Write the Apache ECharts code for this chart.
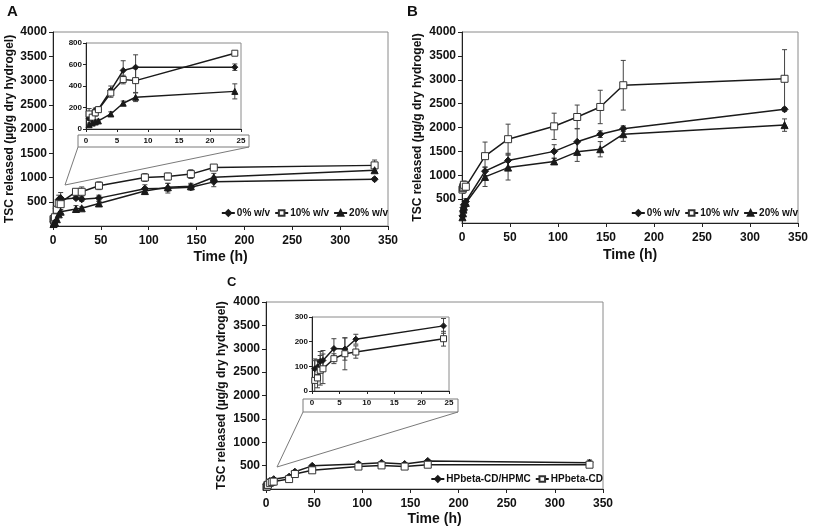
<!DOCTYPE html>
<html><head><meta charset="utf-8">
<script src="https://cdn.jsdelivr.net/npm/echarts@6/dist/echarts.min.js"></script>
<style>html,body{margin:0;padding:0;background:#fff}#c{width:813px;height:530px}</style>
</head><body><div id="c"></div>
<script>
// ---- Panel A data ----
const timesA = [0.5, 1, 1.5, 2, 4, 6, 8, 24, 30, 48, 96, 120, 144, 168, 336];
const A_0 = [100, 130, 175, 185, 360, 545, 575, 575, 550, 575, 770, 780, 800, 910, 965];
const A_0err = [20, 20, 20, 20, 40, 90, 115, 30, 40, 60, 80, 100, 60, 100, 30];
const A_10 = [140, 110, 150, 180, 335, 460, 450, 705, 705, 830, 1000, 1020, 1070, 1205, 1250];
const A_10err = [50, 30, 30, 20, 40, 40, 110, 20, 100, 80, 80, 70, 90, 60, 110];
const A_20 = [40, 55, 65, 75, 140, 240, 295, 350, 365, 465, 720, 800, 820, 1005, 1150];
const A_20err = [15, 15, 15, 15, 20, 20, 40, 70, 30, 40, 70, 80, 60, 80, 40];
// ---- Panel B data ----
const timesB = [0.5, 1, 1.5, 2, 4, 24, 48, 96, 120, 144, 168, 336];
const B_0 = [150, 250, 320, 380, 450, 1085, 1310, 1500, 1700, 1860, 1975, 2380];
const B_0err = [30, 40, 40, 40, 60, 90, 150, 140, 280, 70, 60, 40];
const B_10 = [700, 730, 760, 800, 760, 1400, 1755, 2025, 2220, 2430, 2885, 3020];
const B_10err = [80, 80, 80, 80, 80, 295, 315, 275, 250, 350, 520, 610];
const B_20 = [120, 200, 280, 340, 420, 965, 1160, 1290, 1490, 1545, 1860, 2050];
const B_20err = [30, 40, 40, 40, 50, 200, 260, 60, 200, 160, 150, 130];
// ---- Panel C data ----
const timesC = [0.5, 1, 1.5, 2, 4, 6, 8, 24, 30, 48, 96, 120, 144, 168, 336];
const C_hpmc = [90, 97, 120, 124, 172, 170, 210, 264, 370, 495, 535, 560, 535, 600, 560];
const C_hpmcErr = [40, 30, 40, 40, 40, 45, 20, 30, 30, 30, 40, 30, 30, 30, 60];
const C_cd = [43, 53, 84, 90, 131, 151, 158, 212, 320, 400, 480, 505, 480, 520, 520];
const C_cdErr = [80, 40, 60, 60, 20, 65, 25, 30, 30, 30, 40, 30, 40, 40, 60];
// ---- labels ----
const seriesNamesAB = ['0% w/v', '10% w/v', '20% w/v'];
const seriesNamesC = ['HPbeta-CD/HPMC', 'HPbeta-CD'];
const yTitle = 'TSC released (\u00b5g/g dry hydrogel)';
const xTitle = 'Time (h)';
const insetMaxT = 24;

const FONT = 'Liberation Sans, Arial, sans-serif';
const INK = '#1a1a1a';

function pts(t, v, lim) { return t.map((x, i) => [x, v[i]]).filter(p => lim == null || p[0] <= lim); }
function epts(t, v, e, lim) { return t.map((x, i) => [x, v[i], e[i]]).filter(p => lim == null || p[0] <= lim); }

const styles = {
  diamond: { symbol: 'diamond', symbolSize: 7, itemStyle: { color: INK, borderColor: INK, borderWidth: 1 } },
  square: { symbol: 'rect', symbolSize: 7, itemStyle: { color: '#fff', borderColor: '#333', borderWidth: 1 } },
  triangle: { symbol: 'triangle', symbolSize: 7, itemStyle: { color: INK, borderColor: INK, borderWidth: 1 } }
};

function lineSeries(name, idx, data, st, small) {
  return Object.assign({
    type: 'line', name, xAxisIndex: idx, yAxisIndex: idx, data,
    lineStyle: { color: INK, width: 1.5 }, z: 4, animation: false, clip: true
  }, JSON.parse(JSON.stringify(st)), small ? { symbolSize: 6 } : {});
}
function errSeries(idx, data) {
  return {
    type: 'custom', xAxisIndex: idx, yAxisIndex: idx, data, z: 3, silent: true, animation: false, clip: true,
    encode: { x: 0, y: 1 },
    renderItem: function (params, api) {
      const x = api.value(0), y = api.value(1), e = api.value(2);
      const t = api.coord([x, y + e]), b = api.coord([x, y - e]);
      const w = 2.5, st = { stroke: '#444', lineWidth: 1 };
      return { type: 'group', children: [
        { type: 'line', shape: { x1: t[0], y1: t[1], x2: b[0], y2: b[1] }, style: st },
        { type: 'line', shape: { x1: t[0] - w, y1: t[1], x2: t[0] + w, y2: t[1] }, style: st },
        { type: 'line', shape: { x1: b[0] - w, y1: b[1], x2: b[0] + w, y2: b[1] }, style: st }
      ] };
    }
  };
}

function grid(left, top, width, height) {
  return { left, top, width, height, show: true, borderColor: '#8a8a8a', borderWidth: 1, backgroundColor: '#fff', outerBoundsMode: 'none', containLabel: false };
}
const plain = v => String(v);
function xAx(idx, max, interval, fs, margin, nameGap) {
  return {
    type: 'value', gridIndex: idx, min: 0, max, interval,
    axisLine: { show: true, onZero: false, lineStyle: { color: '#222', width: 1 } },
    axisTick: { show: true, inside: false, length: fs > 9 ? 4 : 3, lineStyle: { color: '#222' } },
    splitLine: { show: false },
    axisLabel: { fontSize: fs, fontWeight: 'bold', color: '#111', fontFamily: FONT, margin, formatter: plain },
    name: nameGap ? xTitle : '', nameLocation: 'middle', nameGap: nameGap || 0,
    nameTextStyle: { fontSize: 14, fontWeight: 'bold', color: '#111', fontFamily: FONT }
  };
}
function yAx(idx, max, interval, fs, margin, nameGap, hideMin) {
  return {
    type: 'value', gridIndex: idx, min: 0, max, interval,
    axisLine: { show: true, onZero: false, lineStyle: { color: '#222', width: 1 } },
    axisTick: { show: true, inside: false, length: fs > 9 ? 4 : 3, lineStyle: { color: '#222' } },
    splitLine: { show: false },
    axisLabel: { fontSize: fs, fontWeight: 'bold', color: '#111', fontFamily: FONT, margin, showMinLabel: !hideMin, formatter: plain },
    name: nameGap ? yTitle : '', nameLocation: 'middle', nameGap: nameGap || 0,
    nameTextStyle: { fontSize: 12, fontWeight: 'bold', color: '#111', fontFamily: FONT }
  };
}
function legend(names, right, top) {
  return {
    data: names, right, top, orient: 'horizontal', itemWidth: 13, itemHeight: 7, itemGap: 4,
    textStyle: { fontSize: 10, fontWeight: 'bold', color: '#111', fontFamily: FONT, padding: [0, 0, 0, -3] },
    padding: 0, selectedMode: false, backgroundColor: 'transparent'
  };
}

const series = [];
// grid 0: A main, 1: A inset, 2: B, 3: C main, 4: C inset
[[A_0, A_0err, 'diamond'], [A_10, A_10err, 'square'], [A_20, A_20err, 'triangle']].forEach((s, i) => {
  series.push(errSeries(0, epts(timesA, s[0], s[1])));
  series.push(lineSeries(seriesNamesAB[i], 0, pts(timesA, s[0]), styles[s[2]]));
  series.push(errSeries(1, epts(timesA, s[0], s[1], insetMaxT)));
  series.push(lineSeries(seriesNamesAB[i], 1, pts(timesA, s[0], insetMaxT), styles[s[2]], true));
});
[[B_0, B_0err, 'diamond'], [B_10, B_10err, 'square'], [B_20, B_20err, 'triangle']].forEach((s, i) => {
  series.push(errSeries(2, epts(timesB, s[0], s[1])));
  series.push(lineSeries(seriesNamesAB[i], 2, pts(timesB, s[0]), styles[s[2]]));
});
[[C_hpmc, C_hpmcErr, 'diamond'], [C_cd, C_cdErr, 'square']].forEach((s, i) => {
  series.push(errSeries(3, epts(timesC, s[0], s[1])));
  series.push(lineSeries(seriesNamesC[i], 3, pts(timesC, s[0]), styles[s[2]]));
  series.push(errSeries(4, epts(timesC, s[0], s[1], insetMaxT)));
  series.push(lineSeries(seriesNamesC[i], 4, pts(timesC, s[0], insetMaxT), styles[s[2]], true));
});

const zoomStroke = { stroke: '#7a7a7a', lineWidth: 1, fill: null };
const option = {
  animation: false,
  backgroundColor: '#fff',
  grid: [grid(53, 32, 335, 194), grid(86, 43, 155, 86), grid(462, 32, 336, 191), grid(266, 302, 337, 187), grid(312, 317, 137, 74)],
  xAxis: [xAx(0, 350, 50, 12, 9, 24), xAx(1, 25, 5, 8, 8, 0), xAx(2, 350, 50, 12, 9, 25), xAx(3, 350, 50, 12, 9, 23), xAx(4, 25, 5, 8, 8, 0)],
  yAxis: [yAx(0, 4000, 500, 12, 6, 37, true), yAx(1, 800, 200, 8, 4, 0, false), yAx(2, 4000, 500, 12, 6, 38, true), yAx(3, 4000, 500, 12, 6, 38, true), yAx(4, 300, 100, 8, 4, 0, false)],
  legend: [legend(seriesNamesAB, 425, 208), legend(seriesNamesAB, 15, 208), legend(seriesNamesC, 210, 474)],
  series,
  graphic: [
    { type: 'text', left: 7, top: 4, style: { text: 'A', font: 'bold 15px ' + FONT, fill: '#111' } },
    { type: 'text', left: 407, top: 4, style: { text: 'B', font: 'bold 15px ' + FONT, fill: '#111' } },
    { type: 'text', left: 227, top: 276, style: { text: 'C', font: 'bold 13px ' + FONT, fill: '#111' } },
    { type: 'rect', shape: { x: 78, y: 135, width: 171, height: 12 }, style: zoomStroke, z: 1 },
    { type: 'polyline', shape: { points: [[78, 147], [65, 185], [249, 147]] }, style: zoomStroke, z: 1 },
    { type: 'rect', shape: { x: 303, y: 399, width: 155, height: 13 }, style: zoomStroke, z: 1 },
    { type: 'polyline', shape: { points: [[303, 412], [277, 467], [458, 412]] }, style: zoomStroke, z: 1 }
  ]
};
const chart = echarts.init(document.getElementById('c'), null, { renderer: 'canvas' });
chart.setOption(option);
</script></body></html>
